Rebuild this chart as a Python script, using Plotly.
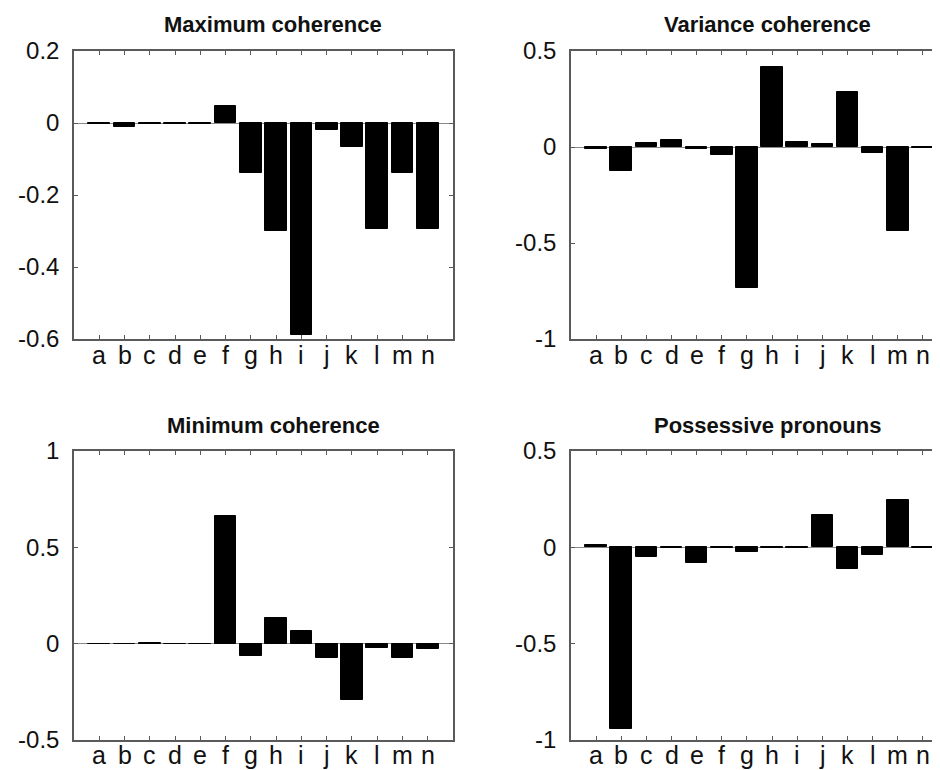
import plotly.graph_objects as go
from plotly.subplots import make_subplots

categories = list("abcdefghijklmn")

max_coherence = [-0.002, -0.010, -0.002, -0.002, -0.004, 0.048, -0.140, -0.300,
                 -0.588, -0.020, -0.066, -0.295, -0.140, -0.295]
variance_coherence = [-0.010, -0.125, 0.022, 0.035, -0.010, -0.043, -0.732, 0.415,
                      0.024, 0.018, 0.285, -0.033, -0.440, -0.005]
min_coherence = [-0.002, -0.002, 0.002, -0.003, -0.002, 0.665, -0.065, 0.135,
                 0.064, -0.075, -0.290, -0.020, -0.074, -0.030]
possessive_pronouns = [0.012, -0.945, -0.048, -0.003, -0.083, -0.003, -0.026, -0.003,
                       -0.005, 0.170, -0.110, -0.040, 0.245, -0.005]

titles = ["Maximum coherence", "Variance coherence", "Minimum coherence", "Possessive pronouns"]
series = [max_coherence, variance_coherence, min_coherence, possessive_pronouns]
y_ranges = [[-0.6, 0.2], [-1, 0.5], [-0.5, 1], [-1, 0.5]]
y_ticks = [[-0.6, -0.4, -0.2, 0, 0.2], [-1, -0.5, 0, 0.5], [-0.5, 0, 0.5, 1], [-1, -0.5, 0, 0.5]]

W, H = 940, 770
# plot boxes in figure pixels: (left, right, top, bottom); page adds an 8px body margin
boxes = [(66, 445, 43, 331), (563, 940, 43, 331), (66, 445, 443, 732), (563, 940, 443, 732)]
title_pos = [(265, 16), (759, 16), (265, 418), (759, 418)]
label_y = [347, 347, 747, 747]

axis_grey = "#5a5a5a"
font = "Liberation Sans, Arial, sans-serif"

fig = make_subplots(rows=2, cols=2)

for i, (vals, name) in enumerate(zip(series, titles)):
    r, c = i // 2 + 1, i % 2 + 1
    fig.add_trace(
        go.Bar(
            x=categories,
            y=vals,
            name=name,
            width=0.86,
            marker=dict(color="black", line=dict(color="black", width=1)),
            showlegend=False,
        ),
        row=r,
        col=c,
    )
    left, right, top, bottom = boxes[i]
    fig.update_xaxes(
        domain=[left / W, right / W],
        range=[-1, 14],
        automargin=False,
        tickmode="array",
        tickvals=categories,
        showticklabels=False,
        showline=True,
        linecolor=axis_grey,
        linewidth=1.5,
        mirror="ticks",
        ticks="inside",
        ticklen=4,
        tickwidth=1.2,
        tickcolor=axis_grey,
        showgrid=False,
        row=r,
        col=c,
    )
    fig.update_yaxes(
        domain=[1 - bottom / H, 1 - top / H],
        range=y_ranges[i],
        automargin=False,
        tickvals=y_ticks[i],
        ticktext=[f"{v:g}" for v in y_ticks[i]],
        showline=True,
        linecolor=axis_grey,
        linewidth=1.5,
        mirror="ticks" if c == 1 else False,
        ticks="inside",
        ticklen=4,
        tickwidth=1.2,
        tickcolor=axis_grey,
        showgrid=False,
        zeroline=True,
        zerolinecolor="#8a8a8a",
        zerolinewidth=1,
        tickfont=dict(family=font, size=24, color="#111"),
        ticklabelstandoff=8,
        row=r,
        col=c,
    )
    # category labels just under the axis
    xref = "x" if i == 0 else f"x{i + 1}"
    for cat in categories:
        fig.add_annotation(
            text=cat,
            x=cat,
            xref=xref,
            y=1 - label_y[i] / H,
            yref="paper",
            showarrow=False,
            xanchor="center",
            yanchor="middle",
            font=dict(family=font, size=25, color="#111"),
        )
    tx, ty = title_pos[i]
    fig.add_annotation(
        text=f"<b>{name}</b>",
        x=tx / W,
        y=1 - ty / H,
        xref="paper",
        yref="paper",
        showarrow=False,
        xanchor="center",
        yanchor="middle",
        font=dict(family=font, size=22, color="#111"),
    )

fig.update_layout(
    template="none",
    width=W,
    height=H,
    margin=dict(l=0, r=0, t=0, b=0, autoexpand=False),
    plot_bgcolor="white",
    paper_bgcolor="white",
    bargap=0,
)

fig.write_html("out.html")
